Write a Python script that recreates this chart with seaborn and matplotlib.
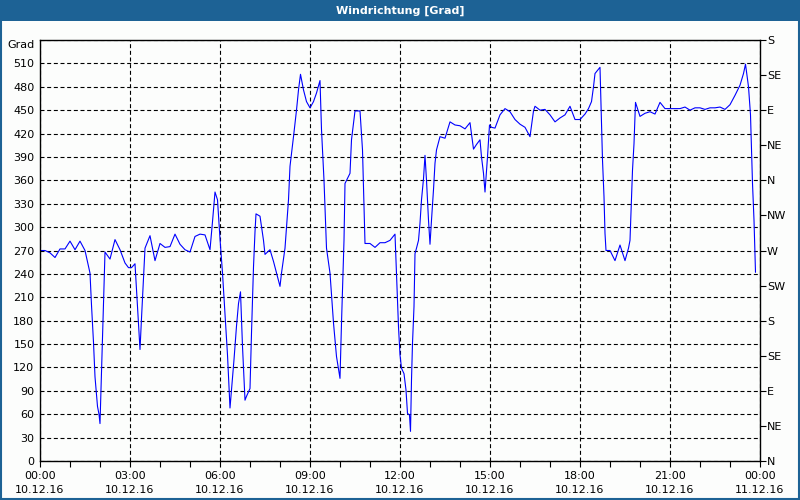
import numpy as np
import pandas as pd
import matplotlib
matplotlib.use("Agg")
import matplotlib.pyplot as plt
import seaborn as sns
from matplotlib.patches import Rectangle

# minutes after 00:00 10.12.16
minutes = [0, 10, 20, 30, 40, 50, 60, 70, 80, 90, 100, 103, 107, 110, 115, 118, 120,
           123, 127, 130, 140, 150, 160, 170, 177, 183, 190, 195, 200, 203, 210, 220,
           230, 240, 250, 260, 270, 280, 290, 300, 310, 320, 330, 340, 345, 350, 355,
           360, 365, 370, 375, 380, 383, 388, 393, 397, 401, 405, 410, 413, 420, 423,
           427, 430, 432, 440, 447, 450, 460, 467, 473, 480, 483, 490, 497, 500, 507,
           513, 517, 521, 527, 533, 540, 547, 553, 560, 563, 568, 573, 580, 583, 587,
           593, 600, 603, 608, 610, 617, 620, 623, 630, 640, 645, 648, 650, 660, 670,
           680, 690, 700, 710, 713, 717, 720, 723, 728, 732, 735, 739, 741, 743, 745,
           748, 750, 753, 757, 760, 763, 767, 770, 773, 777, 780, 783, 787, 790, 793,
           800, 810, 820, 830, 840, 850, 860, 867, 873, 880, 883, 887, 890, 895, 899,
           903, 910, 920, 930, 940, 950, 960, 970, 980, 987, 990, 1000, 1010, 1020,
           1030, 1040, 1050, 1060, 1070, 1080, 1090, 1097, 1103, 1107, 1110, 1115, 1120,
           1123, 1125, 1128, 1130, 1132, 1140, 1150, 1160, 1170, 1177, 1180, 1183, 1185,
           1188, 1191, 1200, 1210, 1220, 1230, 1240, 1250, 1260, 1270, 1280, 1290, 1300,
           1310, 1320, 1330, 1340, 1350, 1360, 1370, 1380, 1390, 1400, 1407, 1411, 1417,
           1421, 1423, 1425, 1428, 1430, 1431]
degrees = [270, 270, 267, 261, 272, 272, 282, 271, 282, 270, 241, 200, 152, 108, 70, 60, 48,
           115, 202, 268, 259, 284, 271, 254, 248, 248, 253, 198, 143, 183, 273, 289,
           257, 279, 274, 275, 291, 278, 271, 268, 288, 291, 290, 271, 307, 345, 335,
           285, 241, 189, 136, 68, 91, 130, 173, 202, 217, 147, 78, 83, 93, 164,
           249, 294, 317, 314, 283, 265, 271, 256, 241, 224, 241, 273, 335, 378, 416,
           450, 476, 496, 476, 461, 453, 461, 472, 488, 425, 360, 273, 241, 213, 177,
           134, 106, 177, 283, 356, 365, 369, 412, 449, 449, 399, 330, 279, 279, 274,
           280, 280, 283, 291, 241, 172, 136, 119, 112, 91, 61, 59, 38, 104, 151,
           198, 266, 273, 283, 305, 335, 362, 392, 360, 309, 278, 309, 348, 382, 399,
           416, 414, 435, 431, 430, 426, 434, 400, 406, 412, 390, 369, 345, 390, 431,
           428, 427, 444, 452, 448, 438, 432, 428, 416, 449, 455, 450, 451, 444,
           435, 440, 444, 455, 438, 438, 445, 452, 461, 480, 497, 501, 505,
           433, 386, 339, 292, 270, 270, 257, 277, 257, 273, 283, 335, 373,
           407, 460, 442, 446, 448, 445, 460, 452, 452, 452, 452, 454, 450,
           453, 453, 451, 453, 453, 454, 451, 457, 469, 482, 497, 509, 480,
           444, 399, 356, 309, 262, 242]

x_ticks = [0, 3, 6, 9, 12, 15, 18, 21, 24]
x_labels = ["00:00\n10.12.16", "03:00\n10.12.16", "06:00\n10.12.16", "09:00\n10.12.16",
            "12:00\n10.12.16", "15:00\n10.12.16", "18:00\n10.12.16", "21:00\n10.12.16",
            "00:00\n11.12.16"]
left_ticks = list(range(0, 541, 30))
left_labels = [str(v) for v in range(0, 511, 30)] + ["Grad"]
right_ticks = list(range(0, 541, 45))
right_labels = ["N", "NE", "E", "SE", "S", "SW", "W", "NW", "N", "NE", "E", "SE", "S"]

df = pd.DataFrame({"hours": np.array(minutes) / 60.0, "deg": degrees})

sns.set_style("white")
plt.rcParams['font.family'] = ['DejaVu Sans']
plt.rcParams['text.color'] = 'black'
plt.rcParams['xtick.color'] = 'black'
plt.rcParams['ytick.color'] = 'black'

blue = "#1d6295"
fig = plt.figure(figsize=(8, 5), dpi=100)
fig.patch.set_facecolor("#fcfdfc")

# title bar and frame
fig.patches.append(Rectangle((0, 0.958), 1, 0.042, transform=fig.transFigure,
                             facecolor=blue, edgecolor="none", zorder=0))
fig.patches.append(Rectangle((0.0012, 0.002), 0.9976, 0.96, transform=fig.transFigure,
                             facecolor="none", edgecolor=blue, linewidth=1.5, zorder=0))
fig.text(0.5, 0.979, "Windrichtung [Grad]", color="white", fontsize=8,
         fontweight="bold", ha="center", va="center")

ax = fig.add_axes([0.05, 0.078, 0.90, 0.842])
ax.set_facecolor("#fcfdfc")
sns.lineplot(data=df, x="hours", y="deg", ax=ax, color="#0000ff", linewidth=0.8)

ax.set_xlim(0, 24)
ax.set_ylim(0, 540)
ax.set_xticks(x_ticks)
ax.set_xticklabels(x_labels, fontsize=8, linespacing=1.55, color="black")
ax.set_xticks(range(0, 25), minor=True)
ax.set_yticks(left_ticks)
ax.set_yticklabels(left_labels, fontsize=8, color="black")
ax.get_yticklabels()[-1].set_va("top")
ax.set_xlabel("")
ax.set_ylabel("")
ax.tick_params(axis="x", which="both", direction="out", length=4, width=0.8,
               color="black", pad=3, bottom=True)
ax.tick_params(axis="y", length=0, pad=4, left=True)

ax.grid(True, axis="both", which="major", color="black", linewidth=0.8,
        linestyle=(0, (3.6, 2.4)))
for s in ax.spines.values():
    s.set_color("black")
    s.set_linewidth(1.0)

ax2 = ax.twinx()
ax2.set_ylim(0, 540)
ax2.set_yticks(right_ticks)
ax2.set_yticklabels(right_labels, fontsize=8, color="black")
ax2.tick_params(axis="y", direction="out", length=4, width=0.8, pad=1, right=True,
                color="black")
for s in ax2.spines.values():
    s.set_visible(False)
ax2.grid(False)

fig.savefig("out.png", dpi=100, facecolor=fig.get_facecolor())
